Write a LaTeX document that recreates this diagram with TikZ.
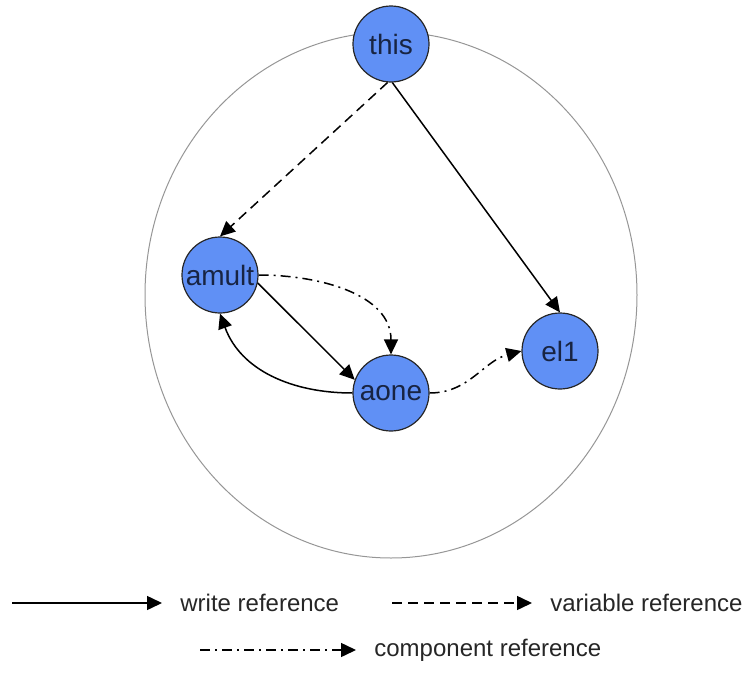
\documentclass[tikz,border=0pt]{standalone}
\usepackage{fontspec}
\setmainfont{Liberation Sans}
\usetikzlibrary{positioning,arrows.meta}
\definecolor{ObjBlue}{RGB}{96,144,245}
\definecolor{ObjText}{RGB}{24,36,66}
\definecolor{RegionGray}{RGB}{150,150,150}
\tikzset{
  writeref/.style={-{Triangle[length=7.5pt,width=7pt]},line width=0.75pt,draw=black},
  varref/.style={-{Triangle[length=7.5pt,width=7pt]},line width=0.75pt,draw=black,
    dash pattern=on 5pt off 3pt},
  compref/.style={-{Triangle[length=7.5pt,width=7pt]},line width=0.75pt,draw=black,
    dash pattern=on 5pt off 2.5pt on 1pt off 2.5pt},
  objnode/.style={circle,draw=black!85,line width=0.6pt,fill=ObjBlue,
    minimum size=38pt,inner sep=0pt,text=ObjText,font=\fontsize{14}{16}\selectfont},
  region/.style={draw=RegionGray,line width=0.5pt},
  legendtext/.style={inner sep=0pt,anchor=west,text=black!85,
    font=\fontsize{12}{14}\selectfont}
}
\begin{document}
\begin{tikzpicture}[x=0.5pt,y=-0.5pt,node distance=9pt]
  \useasboundingbox (0,0) rectangle (751,691);
  % scope of the object
  \draw[region] (391,295) ellipse [x radius=246,y radius=263];
  \node[objnode] (this) at (391,44) {this};
  \node[objnode] (amult) at (220,275) {amult};
  \node[objnode] (aone) at (391,393) {aone};
  \node[objnode] (el1) at (560,351) {el1};
  \draw[varref] (this.-95) -- (amult.north);
  \draw[writeref] (this.-88) -- (el1.north);
  \draw[writeref] (amult.-12) -- (aone.160);
  \draw[compref] (amult.east) to[out=0,in=90] (aone.north);
  \draw[writeref] (aone.west) to[out=180,in=-70] (amult.south);
  \draw[compref] (aone.east) to[out=0,in=195] (el1.west);
  % legend
  \coordinate (wstart) at (12,603);
  \coordinate (wend) at (162,603);
  \coordinate (vstart) at (392,603);
  \coordinate (vend) at (532,603);
  \coordinate (cstart) at (200,650);
  \coordinate (cend) at (356,650);
  \draw[writeref] (wstart) -- (wend);
  \draw[varref] (vstart) -- (vend);
  \draw[compref] (cstart) -- (cend);
  \node[legendtext,right=of wend] (wlabel) {write reference};
  \node[legendtext,right=of vend] (vlabel) {variable reference};
  \node[legendtext,right=of cend] (clabel) {component reference};
\end{tikzpicture}
\end{document}
